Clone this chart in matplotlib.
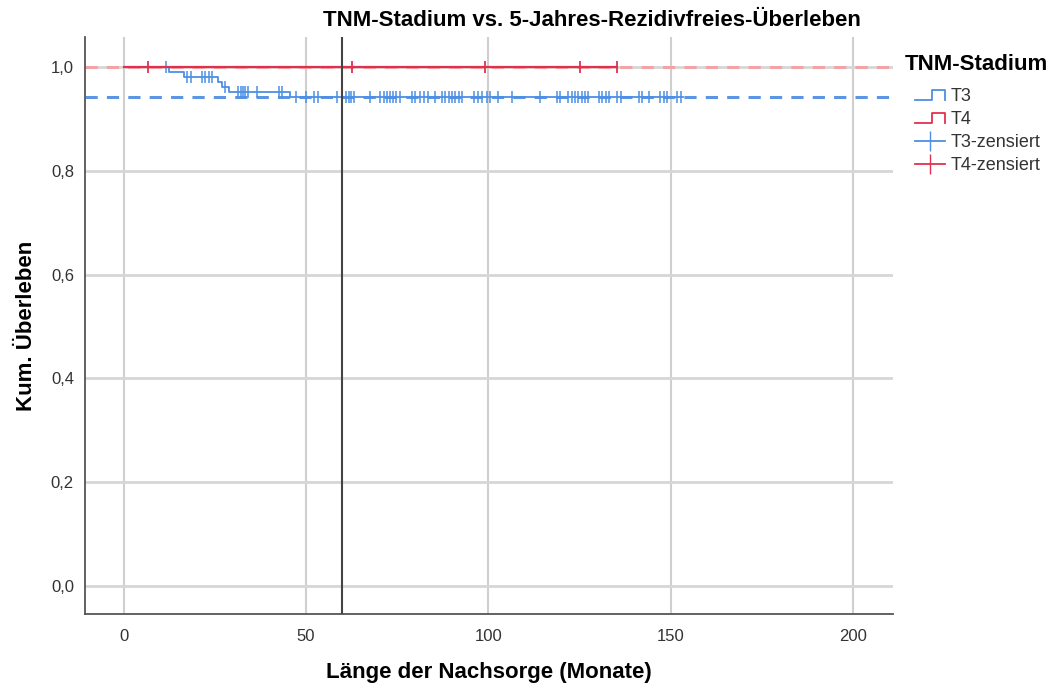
import numpy as np
import matplotlib
matplotlib.use("Agg")
import matplotlib.pyplot as plt
from matplotlib.lines import Line2D
from matplotlib.legend_handler import HandlerBase

plt.rcParams['font.family'] = ['Liberation Sans', 'DejaVu Sans']

# T3: step times (months) and survival level after each step
t3_event_times = [12.4, 16.5, 25.9, 27.0, 28.8, 45.5]
t3_levels = [0.990, 0.981, 0.971, 0.962, 0.952, 0.943]
t3_censored = [11.5, 17.4, 18.4, 21.5, 22.4, 23.3, 24.3, 27.9, 31.3, 32.1, 32.8, 33.4,
               34.0, 36.6, 42.5, 43.4, 47.4, 50.1, 52.1, 53.2, 58.4, 61.1, 61.7, 62.4,
               63.1, 67.5, 70.4, 71.3, 72.1, 73.0, 73.9, 74.8, 75.7, 79.0, 79.9, 81.4,
               82.3, 83.4, 85.5, 87.3, 88.2, 89.1, 90.0, 90.9, 91.9, 92.8, 96.0, 97.3,
               98.3, 99.6, 100.5, 102.8, 106.5, 114.2, 118.8, 119.7, 122.0, 122.9, 123.8,
               124.7, 125.6, 126.5, 127.4, 130.4, 131.3, 132.2, 133.1, 135.4, 136.3,
               141.3, 142.2, 144.1, 147.2, 148.1, 149.0, 151.8, 153.0]
t3_end = 153.4

# T4: no events, censored only
t4_censored = [6.8, 62.7, 99.2, 125.2, 135.3]
t4_end = 135.3

ref_time = 60
t3_ref = 0.943
t4_ref = 1.0

blue = '#4d8fe3'
red = '#e0304f'
blue_dash = '#5b95e4'
red_dash = '#f2a3a5'


def surv_at(t, times, levels):
    idx = np.searchsorted(times, t, side='right')
    return np.r_[1.0, levels][idx]


class StepHandler(HandlerBase):
    def create_artists(self, legend, orig_handle, xdescent, ydescent, width, height, fontsize, trans):
        x0, x1 = -xdescent, -xdescent + width
        xm = x0 + width * 0.55
        y0, y1 = -ydescent + height * 0.1, -ydescent + height * 0.85
        ln = Line2D([x0, xm, xm, x1, x1], [y0, y0, y1, y1, y0],
                    color=orig_handle.get_color(), lw=1.3, transform=trans)
        return [ln]


fig = plt.figure(figsize=(10.55, 6.86), dpi=100)
ax = fig.add_axes([0.0806, 0.105, 0.7658, 0.841])

ax.set_xlim(-10.6, 211)
ax.set_ylim(-0.054, 1.058)

# grid
for gx in [0, 50, 100, 150, 200]:
    ax.axvline(gx, color='#cfcfcf', lw=1.5, zorder=0)
for gy in [0.0, 0.2, 0.4, 0.6, 0.8, 1.0]:
    ax.axhline(gy, color='#d6d6d6', lw=2, zorder=0)

# reference dashed lines
ax.axhline(t4_ref, color=red_dash, lw=2.2, ls=(0, (4, 3)), zorder=1)
ax.axhline(t3_ref, color=blue_dash, lw=2.2, ls=(0, (4, 3)), zorder=1)
ax.axvline(ref_time, color='#444444', lw=1.5, zorder=4)

# T3 curve
xs = [0] + t3_event_times + [t3_end]
ys = [1.0] + t3_levels + [t3_levels[-1]]
ax.step(xs, ys, where='post', color=blue, lw=1.3, zorder=2)
ax.plot(t3_censored, surv_at(np.array(t3_censored), t3_event_times, t3_levels),
        ls='none', marker='|', ms=8, mew=1.1, color=blue, zorder=3)

# T4 curve
ax.plot([0, t4_end], [1.0, 1.0], color=red, lw=1.6, zorder=3)
ax.plot(t4_censored, [1.0] * len(t4_censored), ls='none', marker='|', ms=9,
        mew=1.3, color=red, zorder=3)

ax.set_xticks([0, 50, 100, 150, 200])
ax.set_yticks([0.0, 0.2, 0.4, 0.6, 0.8, 1.0])
ax.set_yticklabels(['0,0', '0,2', '0,4', '0,6', '0,8', '1,0'])
ax.tick_params(length=0, labelsize=12, colors='#333333', pad=8)
ax.tick_params(axis='x', pad=11)
for s in ['top', 'right']:
    ax.spines[s].set_visible(False)
for s in ['left', 'bottom']:
    ax.spines[s].set_color('#555555')
    ax.spines[s].set_linewidth(1.3)

ax.set_xlabel('Länge der Nachsorge (Monate)', fontsize=16, fontweight='bold', labelpad=13)
ax.set_ylabel('Kum. Überleben', fontsize=16, fontweight='bold', labelpad=10)
fig.text(0.561, 0.970, 'TNM-Stadium vs. 5-Jahres-Rezidivfreies-Überleben',
         ha='center', va='center', fontsize=16, fontweight='bold')

# legend title as separate text, entries indented below
fig.text(0.858, 0.9067, 'TNM-Stadium', ha='left', va='center', fontsize=16, fontweight='bold')
handles = [Line2D([], [], color=blue), Line2D([], [], color=red),
           Line2D([], [], color=blue, lw=1.3, marker='|', ms=14, mew=1),
           Line2D([], [], color=red, lw=1.3, marker='|', ms=14, mew=1)]
labels = ['T3', 'T4', 'T3-zensiert', 'T4-zensiert']
leg = fig.legend(handles, labels, loc='upper left', bbox_to_anchor=(0.8607, 0.882),
                 frameon=False, fontsize=13, borderaxespad=0,
                 handler_map={handles[0]: StepHandler(), handles[1]: StepHandler()},
                 handlelength=1.66, handletextpad=0.28, labelspacing=0.335)
for t in leg.get_texts():
    t.set_color('#333333')

fig.savefig('out.png', dpi=100)
